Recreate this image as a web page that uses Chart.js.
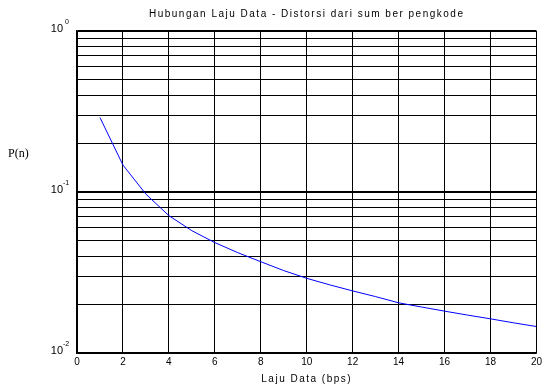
<!DOCTYPE html>
<html>
<head>
<meta charset="utf-8">
<script src="https://cdn.jsdelivr.net/npm/chart.js@4/dist/chart.umd.min.js"></script>
<style>
  html, body { margin: 0; padding: 0; background: #fff; }
  #wrap { width: 545px; height: 386px; }
</style>
</head>
<body>
<div id="wrap"><canvas id="rateChart" width="545" height="386"></canvas></div>
<script>
const titleText = "Hubungan Laju Data - Distorsi dari sum ber pengkode";
const xLabel = "Laju Data (bps)";
const yLabel = "P(n)";

const rate = [1, 2, 3, 4, 5, 6, 7, 8, 9, 10, 11, 12, 13, 14, 15, 16, 17, 18, 19, 20];
const distortion = [0.29, 0.147, 0.097, 0.0713, 0.0575, 0.0485, 0.042, 0.0369, 0.0325, 0.0291,
  0.0265, 0.0243, 0.0224, 0.0205, 0.0193, 0.0182, 0.0172, 0.0163, 0.0154, 0.0146];

const yDecades = [-2, -1, 0];

const points = rate.map((r, i) => ({ x: r, y: distortion[i] }));

// draw title, y label and the 10^n tick labels by hand
const textPlugin = {
  id: "textPlugin",
  afterDraw(chart) {
    const ctx = chart.ctx;
    const area = chart.chartArea;
    const yScale = chart.scales.y;
    ctx.save();
    ctx.fillStyle = "#000";
    ctx.textBaseline = "middle";

    ctx.font = "10px 'Liberation Sans', Arial, sans-serif";
    ctx.letterSpacing = "1.5px";
    ctx.textAlign = "center";
    ctx.fillText(titleText, (area.left + area.right) / 2, 14);
    ctx.fillText(xLabel, (area.left + area.right) / 2, 379);
    ctx.letterSpacing = "0px";

    ctx.font = "12px 'Liberation Serif', 'Times New Roman', serif";
    ctx.textAlign = "left";
    ctx.fillText(yLabel, 8, 154);

    yDecades.forEach((d) => {
      const py = yScale.getPixelForValue(Math.pow(10, d));
      ctx.font = "11px 'Liberation Sans', Arial, sans-serif";
      ctx.textAlign = "right";
      ctx.fillText("10", 63, py - 2);
      ctx.font = "7px 'Liberation Sans', Arial, sans-serif";
      ctx.textAlign = "left";
      ctx.fillText(String(d), d < 0 ? 63 : 65, py - 9);
    });
    ctx.restore();
  }
};

new Chart(document.getElementById("rateChart"), {
  type: "line",
  data: {
    datasets: [
      {
        data: points,
        borderColor: "#0000ff",
        borderWidth: 1,
        pointRadius: 0,
        tension: 0,
        fill: false
      }
    ]
  },
  options: {
    responsive: false,
    animation: false,
    layout: { padding: { top: 31, right: 3, left: 0, bottom: 0 } },
    plugins: {
      legend: { display: false },
      tooltip: { enabled: false }
    },
    scales: {
      x: {
        type: "linear",
        min: 0,
        max: 20,
        ticks: {
          stepSize: 2,
          color: "#000",
          padding: 3,
          font: { size: 10, family: "'Liberation Sans', Arial, sans-serif" }
        },
        grid: { color: "#000", lineWidth: 1, drawTicks: false },
        border: { color: "#000", width: 1.5 },
        afterFit(scale) { scale.height = 33; }
      },
      y: {
        type: "logarithmic",
        min: 0.01,
        max: 1,
        afterBuildTicks(scale) {
          const ticks = [];
          for (let d = -2; d < 0; d++) {
            for (let m = 1; m < 10; m++) {
              ticks.push({ value: m * Math.pow(10, d) });
            }
          }
          ticks.push({ value: 1 });
          scale.ticks = ticks;
        },
        ticks: {
          autoSkip: false,
          callback: () => ""
        },
        grid: {
          color: "#000",
          drawTicks: false,
          lineWidth: (c) => {
            const v = c.tick ? c.tick.value : 0;
            const lg = Math.log10(v);
            return Math.abs(lg - Math.round(lg)) < 1e-9 ? 2 : 1;
          }
        },
        border: { color: "#000", width: 1.5 },
        afterFit(scale) { scale.width = 77; }
      }
    }
  },
  plugins: [textPlugin]
});
</script>
</body>
</html>
